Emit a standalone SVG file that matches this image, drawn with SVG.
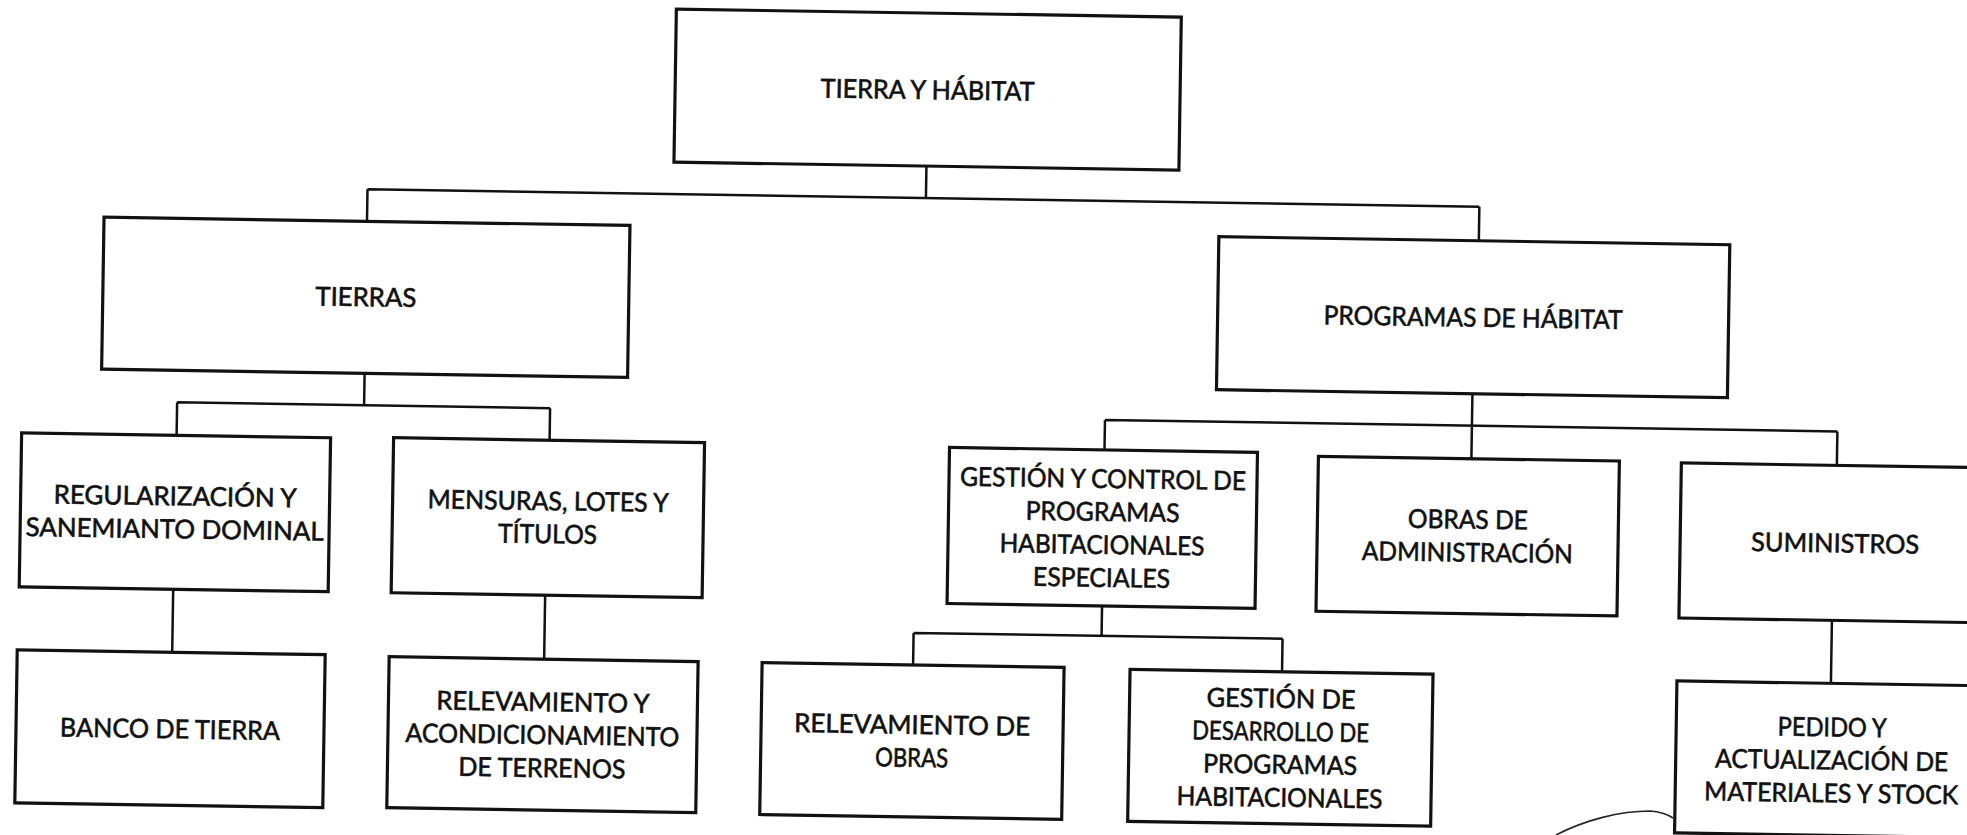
<svg xmlns="http://www.w3.org/2000/svg" width="1967" height="835" viewBox="0 0 1967 835">
<style>
.box{fill:#fff;stroke:#111;stroke-width:3.2}
.con{fill:none;stroke:#111;stroke-width:2.5}
text{font-family:Lato,"Open Sans","Liberation Sans",sans-serif;font-size:26px;fill:#111;stroke:#111;stroke-width:0.6;text-anchor:middle}
</style>
<rect width="1967" height="835" fill="#fff"/>
<g transform="rotate(0.9 983 417)">
<g id="connectors">
<path class="con" d="M922.5,167 V199 M364,199 H1476 M364,199 V231 M1476,199 V233"/>
<path class="con" d="M364,383 V415 M177,415 H550 M177,415 V448 M550,415 V447"/>
<path class="con" d="M176,602 V665 M548,602 V666"/>
<path class="con" d="M1472,386 V451 M1105,418 H1837.5 M1105,418 V448 M1837.5,418 V452"/>
<path class="con" d="M1105,604 V634 M917,634 H1286 M917,634 V666 M1286,634 V667"/>
<path class="con" d="M1835,607 V670"/>
</g>
<g id="n-tierra-habitat"><rect class="box" x="670" y="14" width="505" height="153"/>
<text x="922.5" y="100" textLength="214" lengthAdjust="spacingAndGlyphs">TIERRA Y HÁBITAT</text></g>
<g id="n-tierras"><rect class="box" x="101" y="231" width="526" height="152"/>
<text x="364" y="316" textLength="101" lengthAdjust="spacingAndGlyphs">TIERRAS</text></g>
<g id="n-programas"><rect class="box" x="1216" y="233" width="511" height="153"/>
<text x="1471.5" y="319" textLength="299" lengthAdjust="spacingAndGlyphs">PROGRAMAS DE HÁBITAT</text></g>
<g id="n-regularizacion"><rect class="box" x="22" y="448" width="309" height="154"/>
<text x="176.5" y="518" textLength="243" lengthAdjust="spacingAndGlyphs">REGULARIZACIÓN Y</text>
<text x="176.5" y="551" textLength="298" lengthAdjust="spacingAndGlyphs">SANEMIANTO DOMINAL</text></g>
<g id="n-mensuras"><rect class="box" x="394" y="447" width="311" height="155"/>
<text x="549.5" y="517" textLength="241" lengthAdjust="spacingAndGlyphs">MENSURAS, LOTES Y</text>
<text x="549.5" y="550" textLength="99" lengthAdjust="spacingAndGlyphs">TÍTULOS</text></g>
<g id="n-gestion-control"><rect class="box" x="950" y="448" width="308" height="156"/>
<text x="1104" y="486" textLength="286" lengthAdjust="spacingAndGlyphs">GESTIÓN Y CONTROL DE</text>
<text x="1104" y="519" textLength="154" lengthAdjust="spacingAndGlyphs">PROGRAMAS</text>
<text x="1104" y="552" textLength="205" lengthAdjust="spacingAndGlyphs">HABITACIONALES</text>
<text x="1104" y="585" textLength="137" lengthAdjust="spacingAndGlyphs">ESPECIALES</text></g>
<g id="n-obras-admin"><rect class="box" x="1319" y="451" width="301" height="155"/>
<text x="1469.5" y="521" textLength="120" lengthAdjust="spacingAndGlyphs">OBRAS DE</text>
<text x="1469.5" y="554" textLength="211" lengthAdjust="spacingAndGlyphs">ADMINISTRACIÓN</text></g>
<g id="n-suministros"><rect class="box" x="1682" y="452" width="310" height="155"/>
<text x="1837" y="539" textLength="168" lengthAdjust="spacingAndGlyphs">SUMINISTROS</text></g>
<g id="n-banco"><rect class="box" x="21" y="665" width="308" height="153"/>
<text x="175" y="751" textLength="220" lengthAdjust="spacingAndGlyphs">BANCO DE TIERRA</text></g>
<g id="n-relevamiento-terrenos"><rect class="box" x="393" y="666" width="309" height="151"/>
<text x="547.5" y="718" textLength="213" lengthAdjust="spacingAndGlyphs">RELEVAMIENTO Y</text>
<text x="547.5" y="751" textLength="274" lengthAdjust="spacingAndGlyphs">ACONDICIONAMIENTO</text>
<text x="547.5" y="784" textLength="167" lengthAdjust="spacingAndGlyphs">DE TERRENOS</text></g>
<g id="n-relevamiento-obras"><rect class="box" x="766" y="666" width="302" height="152"/>
<text x="917" y="735" textLength="236" lengthAdjust="spacingAndGlyphs">RELEVAMIENTO DE</text>
<text x="917" y="768" textLength="73" lengthAdjust="spacingAndGlyphs">OBRAS</text></g>
<g id="n-gestion-desarrollo"><rect class="box" x="1134" y="667" width="303" height="152"/>
<text x="1285.5" y="703" textLength="149" lengthAdjust="spacingAndGlyphs">GESTIÓN DE</text>
<text x="1285.5" y="736" textLength="177" lengthAdjust="spacingAndGlyphs">DESARROLLO DE</text>
<text x="1285.5" y="769" textLength="154" lengthAdjust="spacingAndGlyphs">PROGRAMAS</text>
<text x="1285.5" y="802" textLength="206" lengthAdjust="spacingAndGlyphs">HABITACIONALES</text></g>
<g id="n-pedido"><rect class="box" x="1681" y="670" width="312" height="152"/>
<text x="1837" y="723" textLength="109" lengthAdjust="spacingAndGlyphs">PEDIDO Y</text>
<text x="1837" y="756" textLength="233" lengthAdjust="spacingAndGlyphs">ACTUALIZACIÓN DE</text>
<text x="1837" y="789" textLength="254" lengthAdjust="spacingAndGlyphs">MATERIALES Y STOCK</text></g>
</g>
<path fill="none" stroke="#222" stroke-width="1.6" d="M1556,835 C1585,820 1620,811 1650,811 Q1664,812 1673,818"/>
</svg>
